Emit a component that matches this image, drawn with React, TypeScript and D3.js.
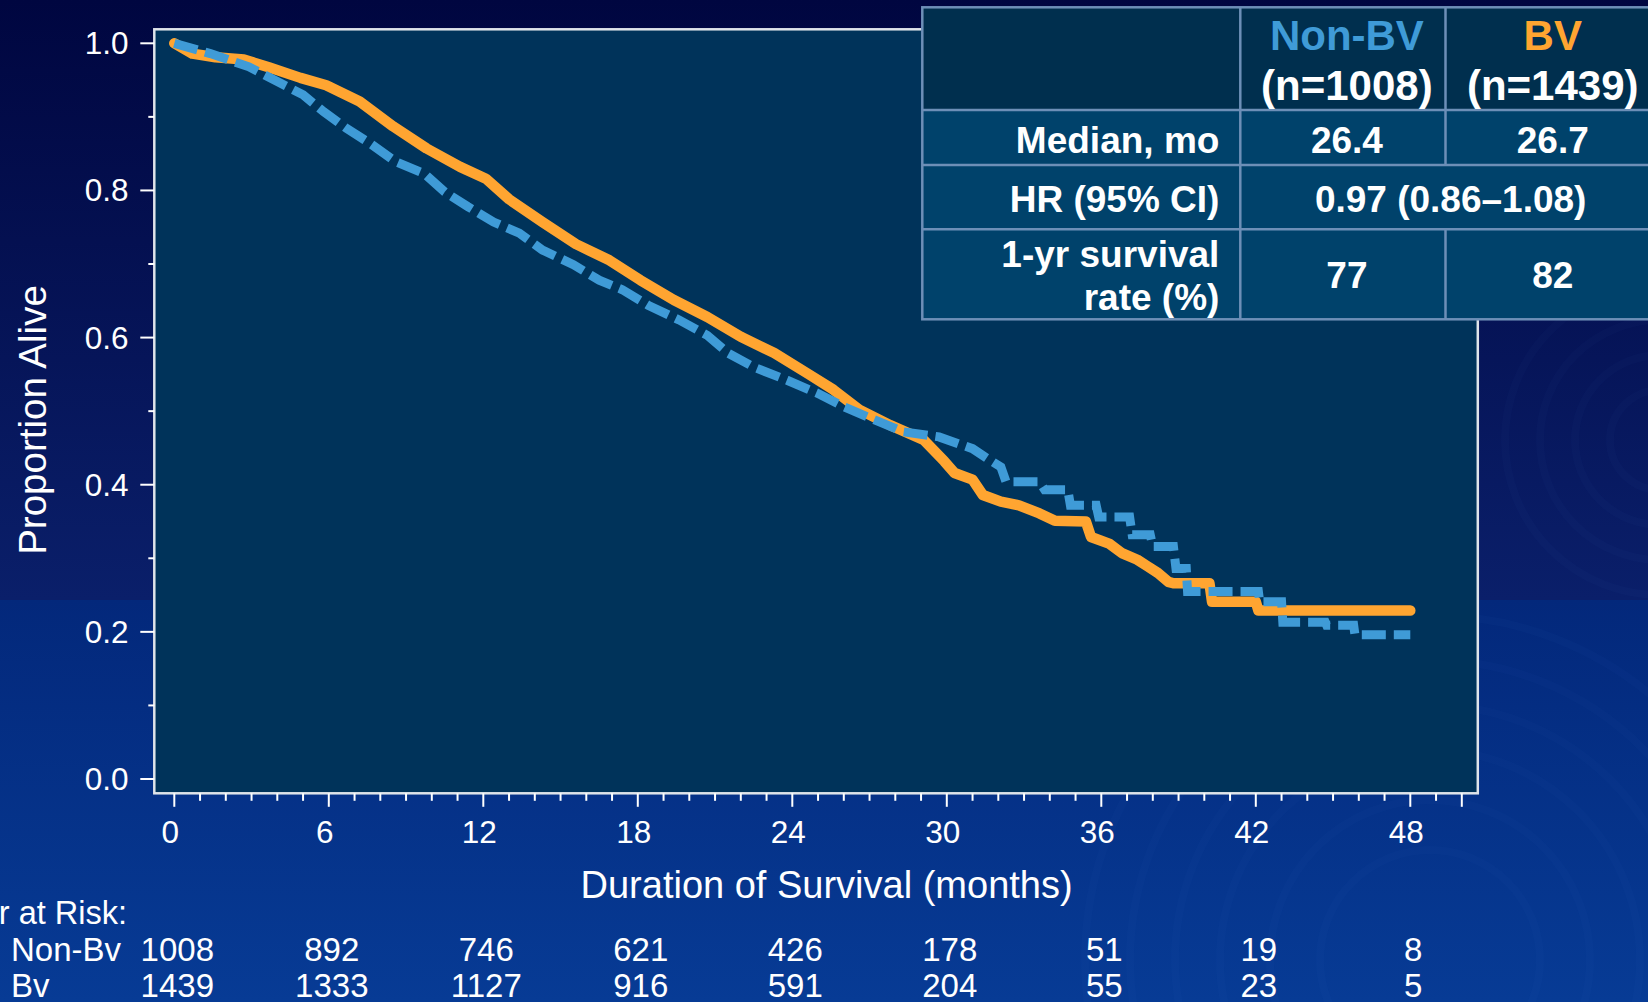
import React from 'react';
import * as d3 from 'd3';

// Kaplan–Meier overall survival, non-BV vs BV groups.
const W = 1648;
const H = 1002;

const monthTicks = [0, 6, 12, 18, 24, 30, 36, 42, 48];
const yTicks = [0, 0.2, 0.4, 0.6, 0.8, 1.0];
const yMinorTicks = [0.1, 0.3, 0.5, 0.7, 0.9];

const atRiskNonBV = [1008, 892, 746, 621, 426, 178, 51, 19, 8];
const atRiskBV = [1439, 1333, 1127, 916, 591, 204, 55, 23, 5];

// [month, proportion alive]; repeated months mark the visible step drops.
const survivalBV: [number, number][] = [
  [0, 1.0], [0.7, 0.986], [1.6, 0.981], [2.7, 0.978], [3.7, 0.967], [4.9, 0.953],
  [5.9, 0.943], [7.2, 0.921], [8.5, 0.887], [9.8, 0.857], [11.1, 0.832], [12.1, 0.816],
  [13.0, 0.788], [14.3, 0.757], [15.6, 0.727], [16.9, 0.705], [18.1, 0.678], [19.4, 0.651],
  [20.7, 0.628], [22.0, 0.601], [23.3, 0.579], [24.6, 0.551], [25.6, 0.529], [26.6, 0.502],
  [27.8, 0.481], [29.1, 0.461], [29.9, 0.432], [30.3, 0.416], [31.0, 0.407], [31.4, 0.386],
  [32.1, 0.377], [32.8, 0.372], [33.6, 0.361], [34.2, 0.351], [35.4, 0.350], [35.6, 0.329],
  [36.3, 0.320], [36.8, 0.307], [37.4, 0.298], [37.8, 0.289], [38.2, 0.280], [38.6, 0.268],
  [38.8, 0.266], [40.2, 0.266], [40.3, 0.241], [42.0, 0.241], [42.1, 0.229], [48.0, 0.229],
];

const survivalNonBV: [number, number][] = [
  [0, 1.0], [1.4, 0.986], [2.9, 0.968], [4.0, 0.948], [5.0, 0.930], [5.8, 0.907],
  [6.7, 0.884], [7.6, 0.864], [8.6, 0.839], [9.7, 0.823], [10.5, 0.798], [11.4, 0.778],
  [12.4, 0.757], [13.4, 0.742], [14.3, 0.719], [15.5, 0.699], [16.5, 0.678], [17.4, 0.665],
  [18.4, 0.644], [19.6, 0.624], [20.7, 0.603], [21.5, 0.579], [22.5, 0.560], [23.8, 0.542],
  [25.0, 0.524], [26.0, 0.506], [27.2, 0.488], [28.3, 0.472], [29.7, 0.465], [31.0, 0.449],
  [31.6, 0.435], [32.1, 0.424], [32.3, 0.404], [33.6, 0.404], [33.8, 0.393], [34.7, 0.393],
  [34.8, 0.372], [35.8, 0.372], [35.9, 0.356], [37.1, 0.356], [37.2, 0.332], [37.9, 0.332],
  [38.0, 0.316], [38.8, 0.316], [38.9, 0.286], [39.3, 0.286], [39.35, 0.255], [42.1, 0.255],
  [42.15, 0.241], [43.0, 0.241], [43.05, 0.213], [44.7, 0.213], [44.75, 0.209], [45.8, 0.209],
  [45.85, 0.196], [48.0, 0.196],
];

const groupNames = ['Non-BV', 'BV'];
const groupCounts = ['(n=1008)', '(n=1439)'];
const medianMonths = ['26.4', '26.7'];
const hazardRatio = '0.97 (0.86\u20131.08)';
const oneYearRates = ['77', '82'];

const ORANGE = '#ffa531';
const BLUE = '#3f9bd7';
const PLOT_BG = '#00335a';
const FONT = '"Liberation Sans", Arial, Helvetica, sans-serif';

export default function App() {
  const x = d3.scaleLinear().domain([0, 48]).range([174.3, 1410.3]);
  const y = d3.scaleLinear().domain([0, 1]).range([779, 43.3]);
  const line = d3
    .line<[number, number]>()
    .x((d) => x(d[0]))
    .y((d) => y(d[1]))
    .curve(d3.curveLinear);

  const frameL = x(0) - 20;
  const frameR = x(50) + 16;
  const frameT = y(1) - 14;
  const frameB = y(0) + 14.3;

  const monthMinor = d3.range(0, 51);

  // summary table geometry
  const tL = 922.3;
  const c1 = 1240.3;
  const c2 = 1445.5;
  const tR = 1661;
  const rows = [7.3, 110, 165, 229.3, 319.3];
  const colCenters = [(c1 + c2) / 2 + 4, (c2 + tR) / 2 - 0.5];
  const labelRight = 1219.4;
  const borderColor = '#6d8fb7';

  const rings = [
    { cx: 1430, cy: 960, r: [110, 160, 210, 255, 300, 345] },
    { cx: 1660, cy: 440, r: [50, 85, 120, 155] },
  ];

  return (
    <>
      <style>{'body{margin:0;overflow:hidden}'}</style>
      <svg width={W} height={H} style={{ display: 'block' }} fontFamily={FONT}>
        <defs>
          <linearGradient id="bgTop" x1="0" y1="0" x2="0" y2="1">
            <stop offset="0%" stopColor="#000640" />
            <stop offset="100%" stopColor="#0a1f6a" />
          </linearGradient>
          <linearGradient id="bgBottom" x1="0" y1="0" x2="0" y2="1">
            <stop offset="0%" stopColor="#03287b" />
            <stop offset="100%" stopColor="#073b95" />
          </linearGradient>
        </defs>
        <rect x={0} y={0} width={W} height={600} fill="url(#bgTop)" />
        <rect x={0} y={600} width={W} height={H - 600} fill="url(#bgBottom)" />
        {rings.map((g, gi) =>
          g.r.map((r, i) => (
            <circle
              key={`ring-${gi}-${i}`}
              cx={g.cx}
              cy={g.cy}
              r={r}
              fill="none"
              stroke="rgba(140,185,255,0.025)"
              strokeWidth={8}
            />
          ))
        )}

        {/* plot panel */}
        <rect
          x={frameL}
          y={frameT}
          width={frameR - frameL}
          height={frameB - frameT}
          fill={PLOT_BG}
          stroke="#dfe4ea"
          strokeWidth={2.5}
        />

        {/* y axis */}
        {yTicks.map((t) => (
          <g key={`yt-${t}`}>
            <line x1={frameL - 14} x2={frameL} y1={y(t)} y2={y(t)} stroke="#ffffff" strokeWidth={2} />
            <text x={128.6} y={y(t) + 11} textAnchor="end" fill="#ffffff" fontSize={31.5}>
              {t.toFixed(1)}
            </text>
          </g>
        ))}
        {yMinorTicks.map((t) => (
          <line key={`ym-${t}`} x1={frameL - 6} x2={frameL} y1={y(t)} y2={y(t)} stroke="#ffffff" strokeWidth={2} />
        ))}
        <text
          transform={`translate(45.5, 420) rotate(-90)`}
          textAnchor="middle"
          fill="#ffffff"
          fontSize={38.5}
        >
          Proportion Alive
        </text>

        {/* x axis */}
        {monthMinor.map((m) => {
          const major = m % 6 === 0 || m === 50;
          return (
            <line
              key={`xt-${m}`}
              x1={x(m)}
              x2={x(m)}
              y1={frameB}
              y2={frameB + (major ? 13.5 : 7.5)}
              stroke="#ffffff"
              strokeWidth={2}
            />
          );
        })}
        {monthTicks.map((m) => (
          <text key={`xl-${m}`} x={x(m) - 4} y={843} textAnchor="middle" fill="#ffffff" fontSize={31.5}>
            {m}
          </text>
        ))}
        <text x={826.6} y={898.3} textAnchor="middle" fill="#ffffff" fontSize={38}>
          Duration of Survival (months)
        </text>

        {/* survival curves */}
        <path
          d={line(survivalBV) || ''}
          fill="none"
          stroke={ORANGE}
          strokeWidth={10.5}
          strokeLinecap="round"
          strokeLinejoin="round"
        />
        <path
          d={line(survivalNonBV) || ''}
          fill="none"
          stroke={BLUE}
          strokeWidth={9}
          strokeDasharray="24 8"
          strokeLinejoin="miter"
        />

        {/* numbers at risk */}
        <text x={127} y={924} textAnchor="end" fill="#ffffff" fontSize={32.5}>
          Number at Risk:
        </text>
        <text x={11} y={961} fill="#ffffff" fontSize={33}>
          Non-Bv
        </text>
        <text x={11} y={996.5} fill="#ffffff" fontSize={33}>
          Bv
        </text>
        {monthTicks.map((m, i) => (
          <g key={`ar-${m}`}>
            <text x={x(m) + 3} y={961} textAnchor="middle" fill="#ffffff" fontSize={33}>
              {atRiskNonBV[i]}
            </text>
            <text x={x(m) + 3} y={996.5} textAnchor="middle" fill="#ffffff" fontSize={33}>
              {atRiskBV[i]}
            </text>
          </g>
        ))}

        {/* summary table */}
        <rect x={tL} y={rows[0]} width={tR - tL} height={rows[1] - rows[0]} fill="#002f4e" />
        <rect x={tL} y={rows[1]} width={tR - tL} height={rows[4] - rows[1]} fill="#00426b" />
        <rect
          x={tL}
          y={rows[0]}
          width={tR - tL}
          height={rows[4] - rows[0]}
          fill="none"
          stroke={borderColor}
          strokeWidth={2.5}
        />
        {rows.slice(1, 4).map((r, i) => (
          <line key={`row-${i}`} x1={tL} x2={tR} y1={r} y2={r} stroke={borderColor} strokeWidth={2.5} />
        ))}
        <line x1={c1} x2={c1} y1={rows[0]} y2={rows[4]} stroke={borderColor} strokeWidth={2.5} />
        <line x1={c2} x2={c2} y1={rows[0]} y2={rows[2]} stroke={borderColor} strokeWidth={2.5} />
        <line x1={c2} x2={c2} y1={rows[3]} y2={rows[4]} stroke={borderColor} strokeWidth={2.5} />

        <g fontWeight="bold" fill="#ffffff" textAnchor="middle">
          {groupNames.map((g, i) => (
            <g key={`hdr-${g}`}>
              <text x={colCenters[i]} y={50} fontSize={42} fill={i === 0 ? BLUE : ORANGE}>
                {g}
              </text>
              <text x={colCenters[i]} y={100} fontSize={42}>
                {groupCounts[i]}
              </text>
              <text x={colCenters[i]} y={152.7} fontSize={37}>
                {medianMonths[i]}
              </text>
              <text x={colCenters[i]} y={288.3} fontSize={37}>
                {oneYearRates[i]}
              </text>
            </g>
          ))}
          <text x={(c1 + tR) / 2} y={211.7} fontSize={37}>
            {hazardRatio}
          </text>
          <text x={labelRight} y={152.7} fontSize={37} textAnchor="end">
            Median, mo
          </text>
          <text x={labelRight} y={211.7} fontSize={37} textAnchor="end">
            HR (95% CI)
          </text>
          <text x={labelRight} y={266.7} fontSize={37} textAnchor="end">
            1-yr survival
          </text>
          <text x={labelRight} y={310} fontSize={37} textAnchor="end">
            rate (%)
          </text>
        </g>
      </svg>
    </>
  );
}
